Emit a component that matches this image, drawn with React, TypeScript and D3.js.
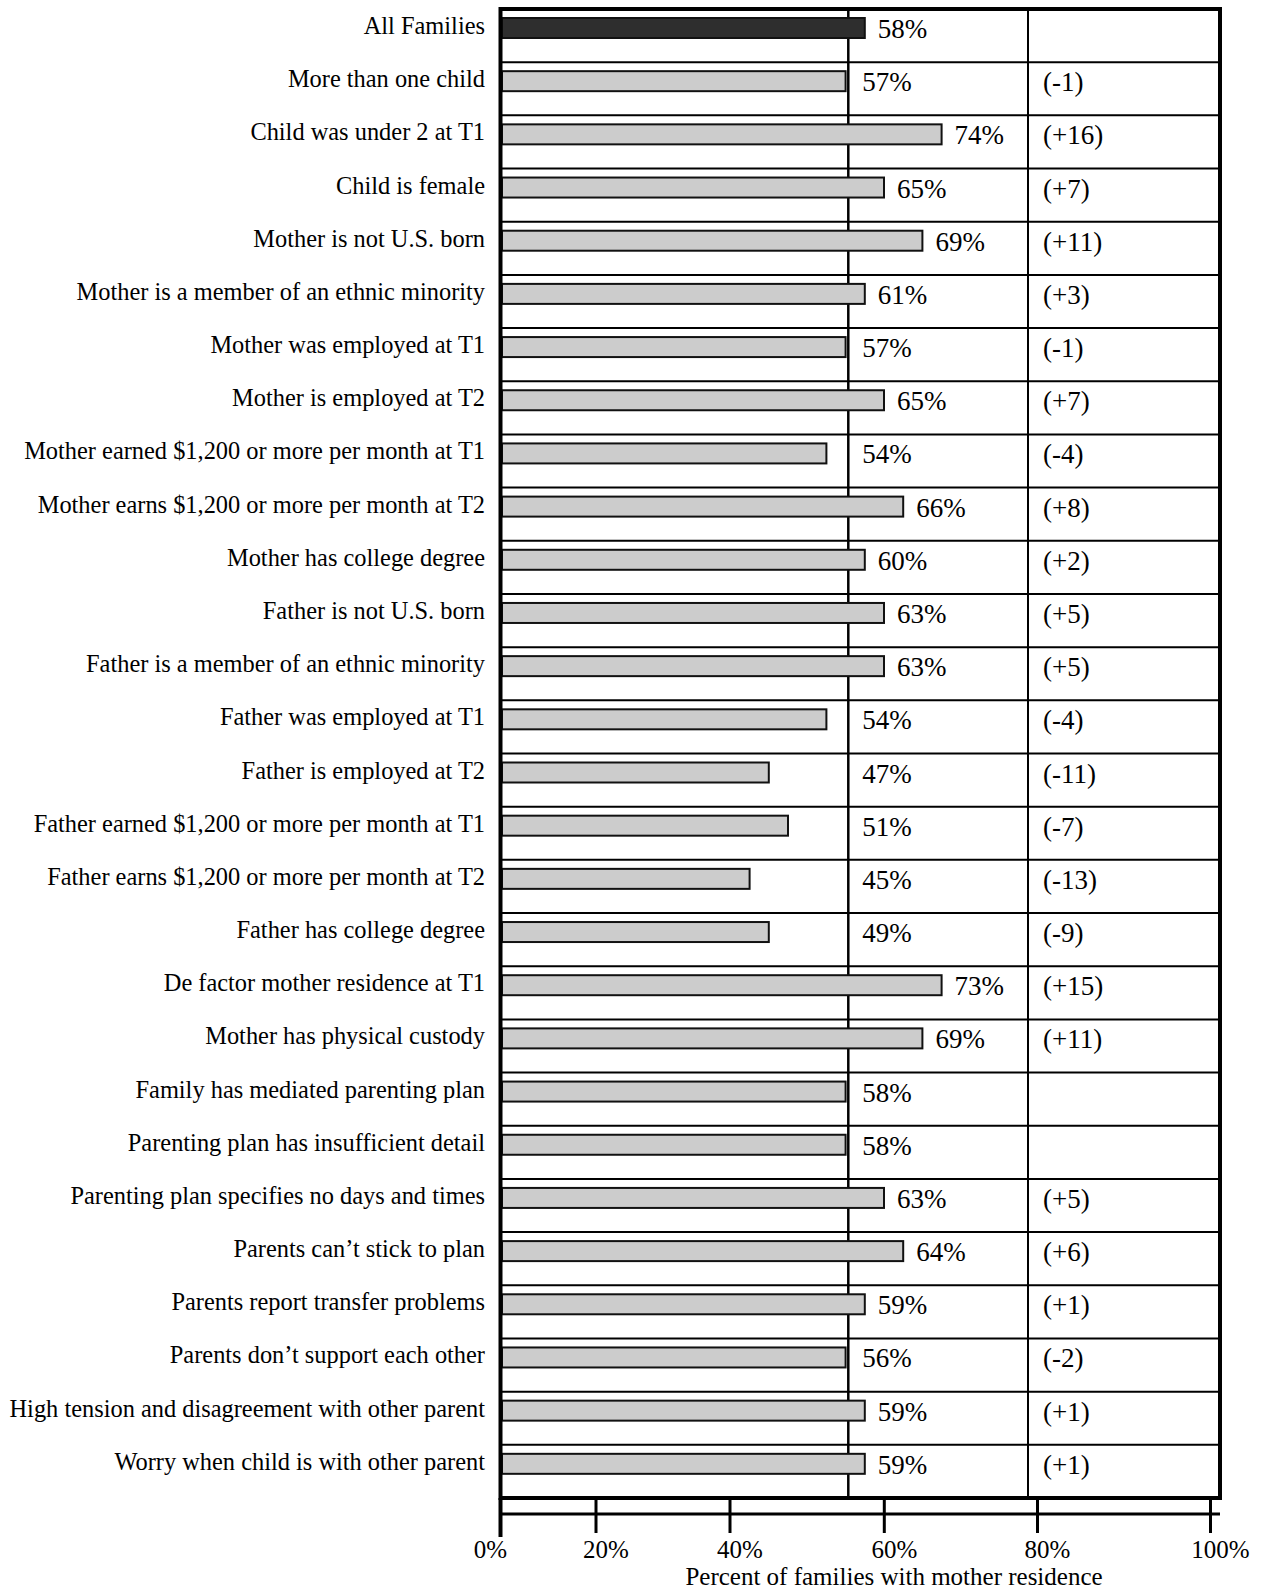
import React from "react";
import * as d3 from "d3";

const categories = [
  "All Families",
  "More than one child",
  "Child was under 2 at T1",
  "Child is female",
  "Mother is not U.S. born",
  "Mother is a member of an ethnic minority",
  "Mother was employed at T1",
  "Mother is employed at T2",
  "Mother earned $1,200 or more per month at T1",
  "Mother earns $1,200 or more per month at T2",
  "Mother has college degree",
  "Father is not U.S. born",
  "Father is a member of an ethnic minority",
  "Father was employed at T1",
  "Father is employed at T2",
  "Father earned $1,200 or more per month at T1",
  "Father earns $1,200 or more per month at T2",
  "Father has college degree",
  "De factor mother residence at T1",
  "Mother has physical custody",
  "Family has mediated parenting plan",
  "Parenting plan has insufficient detail",
  "Parenting plan specifies no days and times",
  "Parents can\u2019t stick to plan",
  "Parents report transfer problems",
  "Parents don\u2019t support each other",
  "High tension and disagreement with other parent",
  "Worry when child is with other parent",
];

// percentage printed next to each bar
const valueLabels = [
  58, 57, 74, 65, 69, 61, 57, 65, 54, 66, 60, 63, 63, 54, 47, 51, 45, 49, 73, 69,
  58, 58, 63, 64, 59, 56, 59, 59,
];

// bar lengths as drawn in the picture (chart grid units)
const barLengths = [
  19, 18, 23, 20, 22, 19, 18, 20, 17, 21, 19, 20, 20, 17, 14, 15, 13, 14, 23, 22,
  18, 18, 20, 21, 19, 18, 19, 19,
];

// difference from all families
const changes = [
  "", "(-1)", "(+16)", "(+7)", "(+11)", "(+3)", "(-1)", "(+7)", "(-4)", "(+8)",
  "(+2)", "(+5)", "(+5)", "(-4)", "(-11)", "(-7)", "(-13)", "(-9)", "(+15)",
  "(+11)", "", "", "(+5)", "(+6)", "(+1)", "(-2)", "(+1)", "(+1)",
];

const axisTicks = [0, 20, 40, 60, 80, 100];
const axisTitle = "Percent of families with mother residence";

export default function App() {
  const W = 1265;
  const H = 1590;
  const plotLeft = 500.5;
  const plotRight = 1220;
  const plotTop = 9;
  const plotBottom = 1498;
  const refX = 848.3;
  const colX = 1028;
  const font = "'Liberation Serif', 'Times New Roman', Times, serif";

  const y = d3.scaleBand<string>().domain(categories).range([plotTop, plotBottom]);
  const xBar = d3.scaleLinear().domain([0, 10]).range([501, 693]);
  const xAxis = d3
    .scaleLinear()
    .domain(axisTicks)
    .range([500.5, 596, 730, 884.3, 1037.5, 1210.5]);

  const rowLines = categories.slice(1).map((c) => y(c) as number);
  const axisY = 1514;

  return (
    <svg
      width={W}
      height={H}
      style={{ position: "absolute", left: 0, top: 0, background: "#fff" }}
      fontFamily={font}
    >
      <rect x={0} y={0} width={W} height={H} fill="#fff" />
      {/* row separators */}
      {rowLines.map((ly, i) => (
        <line key={"r" + i} x1={plotLeft} x2={plotRight} y1={ly} y2={ly} stroke="#000" strokeWidth={2} />
      ))}
      {/* reference and column lines */}
      <line x1={refX} x2={refX} y1={plotTop} y2={plotBottom} stroke="#000" strokeWidth={2.5} />
      <line x1={colX} x2={colX} y1={plotTop} y2={plotBottom} stroke="#000" strokeWidth={2} />

      {/* bars */}
      {categories.map((c, i) => {
        const top = y(c) as number;
        const end = xBar(barLengths[i]);
        return (
          <rect
            key={"b" + i}
            x={502}
            y={top + 9}
            width={end - 503}
            height={20}
            fill={i === 0 ? "#2e2e2e" : "#cccccc"}
            stroke="#111"
            strokeWidth={2}
          />
        );
      })}

      {/* category labels */}
      {categories.map((c, i) => (
        <text key={"l" + i} x={485} y={(y(c) as number) + 25} textAnchor="end" fontSize={24.4} fill="#000">
          {c}
        </text>
      ))}

      {/* value labels */}
      {categories.map((c, i) => {
        const end = xBar(barLengths[i]);
        const lx = end > refX ? end + 12 : refX + 14;
        return (
          <text key={"v" + i} x={lx} y={(y(c) as number) + 29} fontSize={27} fill="#000">
            {valueLabels[i] + "%"}
          </text>
        );
      })}

      {/* change labels */}
      {categories.map((c, i) =>
        changes[i] ? (
          <text key={"c" + i} x={1043} y={(y(c) as number) + 29} fontSize={27} fill="#000">
            {changes[i]}
          </text>
        ) : null
      )}

      {/* plot border */}
      <rect
        x={plotLeft}
        y={plotTop}
        width={plotRight - plotLeft}
        height={plotBottom - plotTop}
        fill="none"
        stroke="#000"
        strokeWidth={4}
      />

      {/* axis */}
      <line x1={plotLeft} x2={plotRight} y1={axisY} y2={axisY} stroke="#000" strokeWidth={3} />
      {axisTicks.map((t, i) => (
        <line
          key={"t" + i}
          x1={xAxis(t)}
          x2={xAxis(t)}
          y1={plotBottom}
          y2={i === 0 ? 1537 : 1533}
          stroke="#000"
          strokeWidth={i === 0 ? 4 : 3}
        />
      ))}
      {axisTicks.map((t, i) => (
        <text
          key={"tl" + i}
          x={xAxis(t) + (i === 0 ? -10 : 10)}
          y={1558}
          textAnchor="middle"
          fontSize={25}
          fill="#000"
        >
          {t + "%"}
        </text>
      ))}
      <text x={894} y={1585} textAnchor="middle" fontSize={25} fill="#000">
        {axisTitle}
      </text>
    </svg>
  );
}
